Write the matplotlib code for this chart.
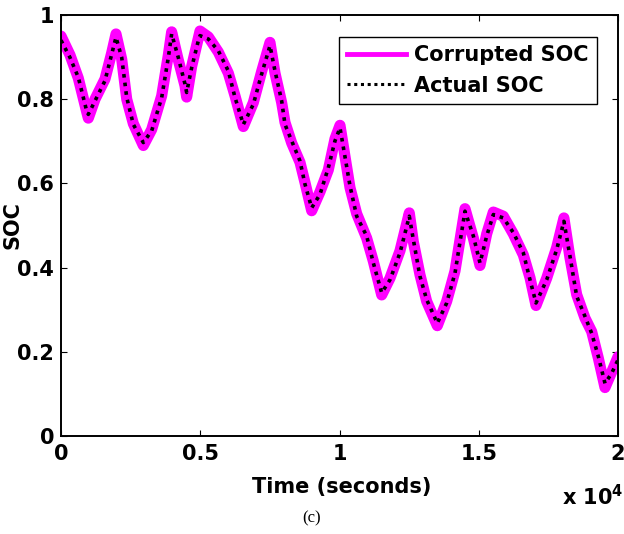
import matplotlib
matplotlib.use("Agg")
import matplotlib.pyplot as plt
from matplotlib.lines import Line2D

# Time (s) and SOC values
time_s = [0, 323, 621, 922, 981, 1221, 1580, 1820, 1975, 2180, 2360, 2597, 2956,
          3256, 3615, 3854, 3973, 4212, 4452, 4512, 4692, 4931, 4991, 5290, 5649,
          6008, 6248, 6547, 6906, 7205, 7504, 7684, 7923, 8043, 8283, 8582, 8761,
          9001, 9300, 9598, 9838, 10018, 10377, 10617, 10976, 11215, 11515, 11813,
          12172, 12506, 12650, 12890, 13129, 13512, 13849, 14147, 14506, 14806,
          15045, 15285, 15524, 15883, 16242, 16601, 16840, 17056, 17440, 17799,
          18058, 18276, 18516, 18815, 19055, 19294, 19533, 19773, 20000]
actual_soc = [0.94, 0.899, 0.852, 0.772, 0.764, 0.796, 0.844, 0.907, 0.947, 0.899,
              0.804, 0.740, 0.697, 0.725, 0.804, 0.899, 0.955, 0.899, 0.836, 0.816,
              0.875, 0.939, 0.951, 0.943, 0.915, 0.867, 0.804, 0.740, 0.788, 0.860,
              0.927, 0.867, 0.796, 0.740, 0.701, 0.653, 0.598, 0.542, 0.574, 0.637,
              0.701, 0.732, 0.594, 0.522, 0.475, 0.411, 0.340, 0.371, 0.435, 0.522,
              0.467, 0.379, 0.324, 0.268, 0.316, 0.387, 0.534, 0.475, 0.411, 0.475,
              0.526, 0.518, 0.483, 0.435, 0.371, 0.316, 0.371, 0.443, 0.510, 0.427,
              0.332, 0.284, 0.244, 0.189, 0.125, 0.149, 0.181]
corrupted_soc = [0.95, 0.905, 0.850, 0.770, 0.755, 0.800, 0.848, 0.910, 0.955, 0.895,
                 0.800, 0.742, 0.690, 0.728, 0.808, 0.905, 0.960, 0.893, 0.832, 0.805,
                 0.878, 0.945, 0.962, 0.948, 0.912, 0.862, 0.808, 0.735, 0.792, 0.866,
                 0.935, 0.862, 0.792, 0.745, 0.696, 0.650, 0.602, 0.535, 0.580, 0.632,
                 0.706, 0.738, 0.590, 0.528, 0.470, 0.415, 0.335, 0.375, 0.440, 0.530,
                 0.462, 0.383, 0.320, 0.262, 0.320, 0.392, 0.540, 0.470, 0.405, 0.480,
                 0.532, 0.522, 0.480, 0.430, 0.376, 0.310, 0.375, 0.448, 0.518, 0.423,
                 0.336, 0.280, 0.248, 0.185, 0.115, 0.152, 0.188]

x_ticks = [0, 5000, 10000, 15000, 20000]
x_tick_labels = ["0", "0.5", "1", "1.5", "2"]
y_ticks = [0, 0.2, 0.4, 0.6, 0.8, 1.0]
y_tick_labels = ["0", "0.2", "0.4", "0.6", "0.8", "1"]
series_names = ["Corrupted SOC", "Actual SOC"]

plt.rcParams['font.family'] = ['DejaVu Sans']
plt.rcParams['mathtext.fontset'] = 'dejavusans'
FS = 15

W, H = 624, 534
fig = plt.figure(figsize=(W / 100, H / 100), dpi=100)
ax = fig.add_axes([61 / W, (H - 436) / H, 557 / W, 421 / H])

ax.plot(time_s, corrupted_soc, color='#ff00ff', lw=8, solid_joinstyle='round',
        solid_capstyle='round')
ax.plot(time_s, actual_soc, color='black', lw=2.6, linestyle=(0, (1, 1.4)))

ax.set_xlim(0, 20000)
ax.set_ylim(0, 1)
ax.set_xticks(x_ticks)
ax.set_xticklabels(x_tick_labels, fontsize=FS, fontweight='bold')
ax.set_yticks(y_ticks)
ax.set_yticklabels(y_tick_labels, fontsize=FS, fontweight='bold')
ax.tick_params(direction='in', length=4, width=0.8, top=True, right=True)
ax.tick_params(axis='x', pad=6)
ax.tick_params(axis='y', pad=5)
for s in ax.spines.values():
    s.set_linewidth(1.4)

handles = [Line2D([], [], color='#ff00ff', lw=3.5),
           Line2D([], [], color='black', lw=2.2, linestyle=(0, (1, 1.2)))]
leg = ax.legend(handles, series_names, loc='upper right',
                bbox_to_anchor=(0.962, 0.948),
                prop={'size': FS, 'weight': 'bold'}, frameon=True, fancybox=False,
                edgecolor='black', framealpha=1, handlelength=2.8,
                handletextpad=0.4, borderpad=0.4, labelspacing=0.5,
                borderaxespad=0)
leg.get_frame().set_linewidth(1.0)

fig.text(342 / W, 1 - 487 / H, "Time (seconds)", ha='center', va='center',
         fontsize=FS, fontweight='bold')
fig.text(13 / W, 1 - 225 / H, "SOC", ha='center', va='center', rotation=90,
         fontsize=FS, fontweight='bold')
fig.text(562 / W, 1 - 497 / H, r"x 10$^{\mathbf{4}}$", ha='left', va='center',
         fontsize=FS, fontweight='bold')
fig.text(312 / W, 1 - 518 / H, "(c)", ha='center', va='center', fontsize=12,
         family='Liberation Serif')

fig.savefig("out.png", dpi=100)
